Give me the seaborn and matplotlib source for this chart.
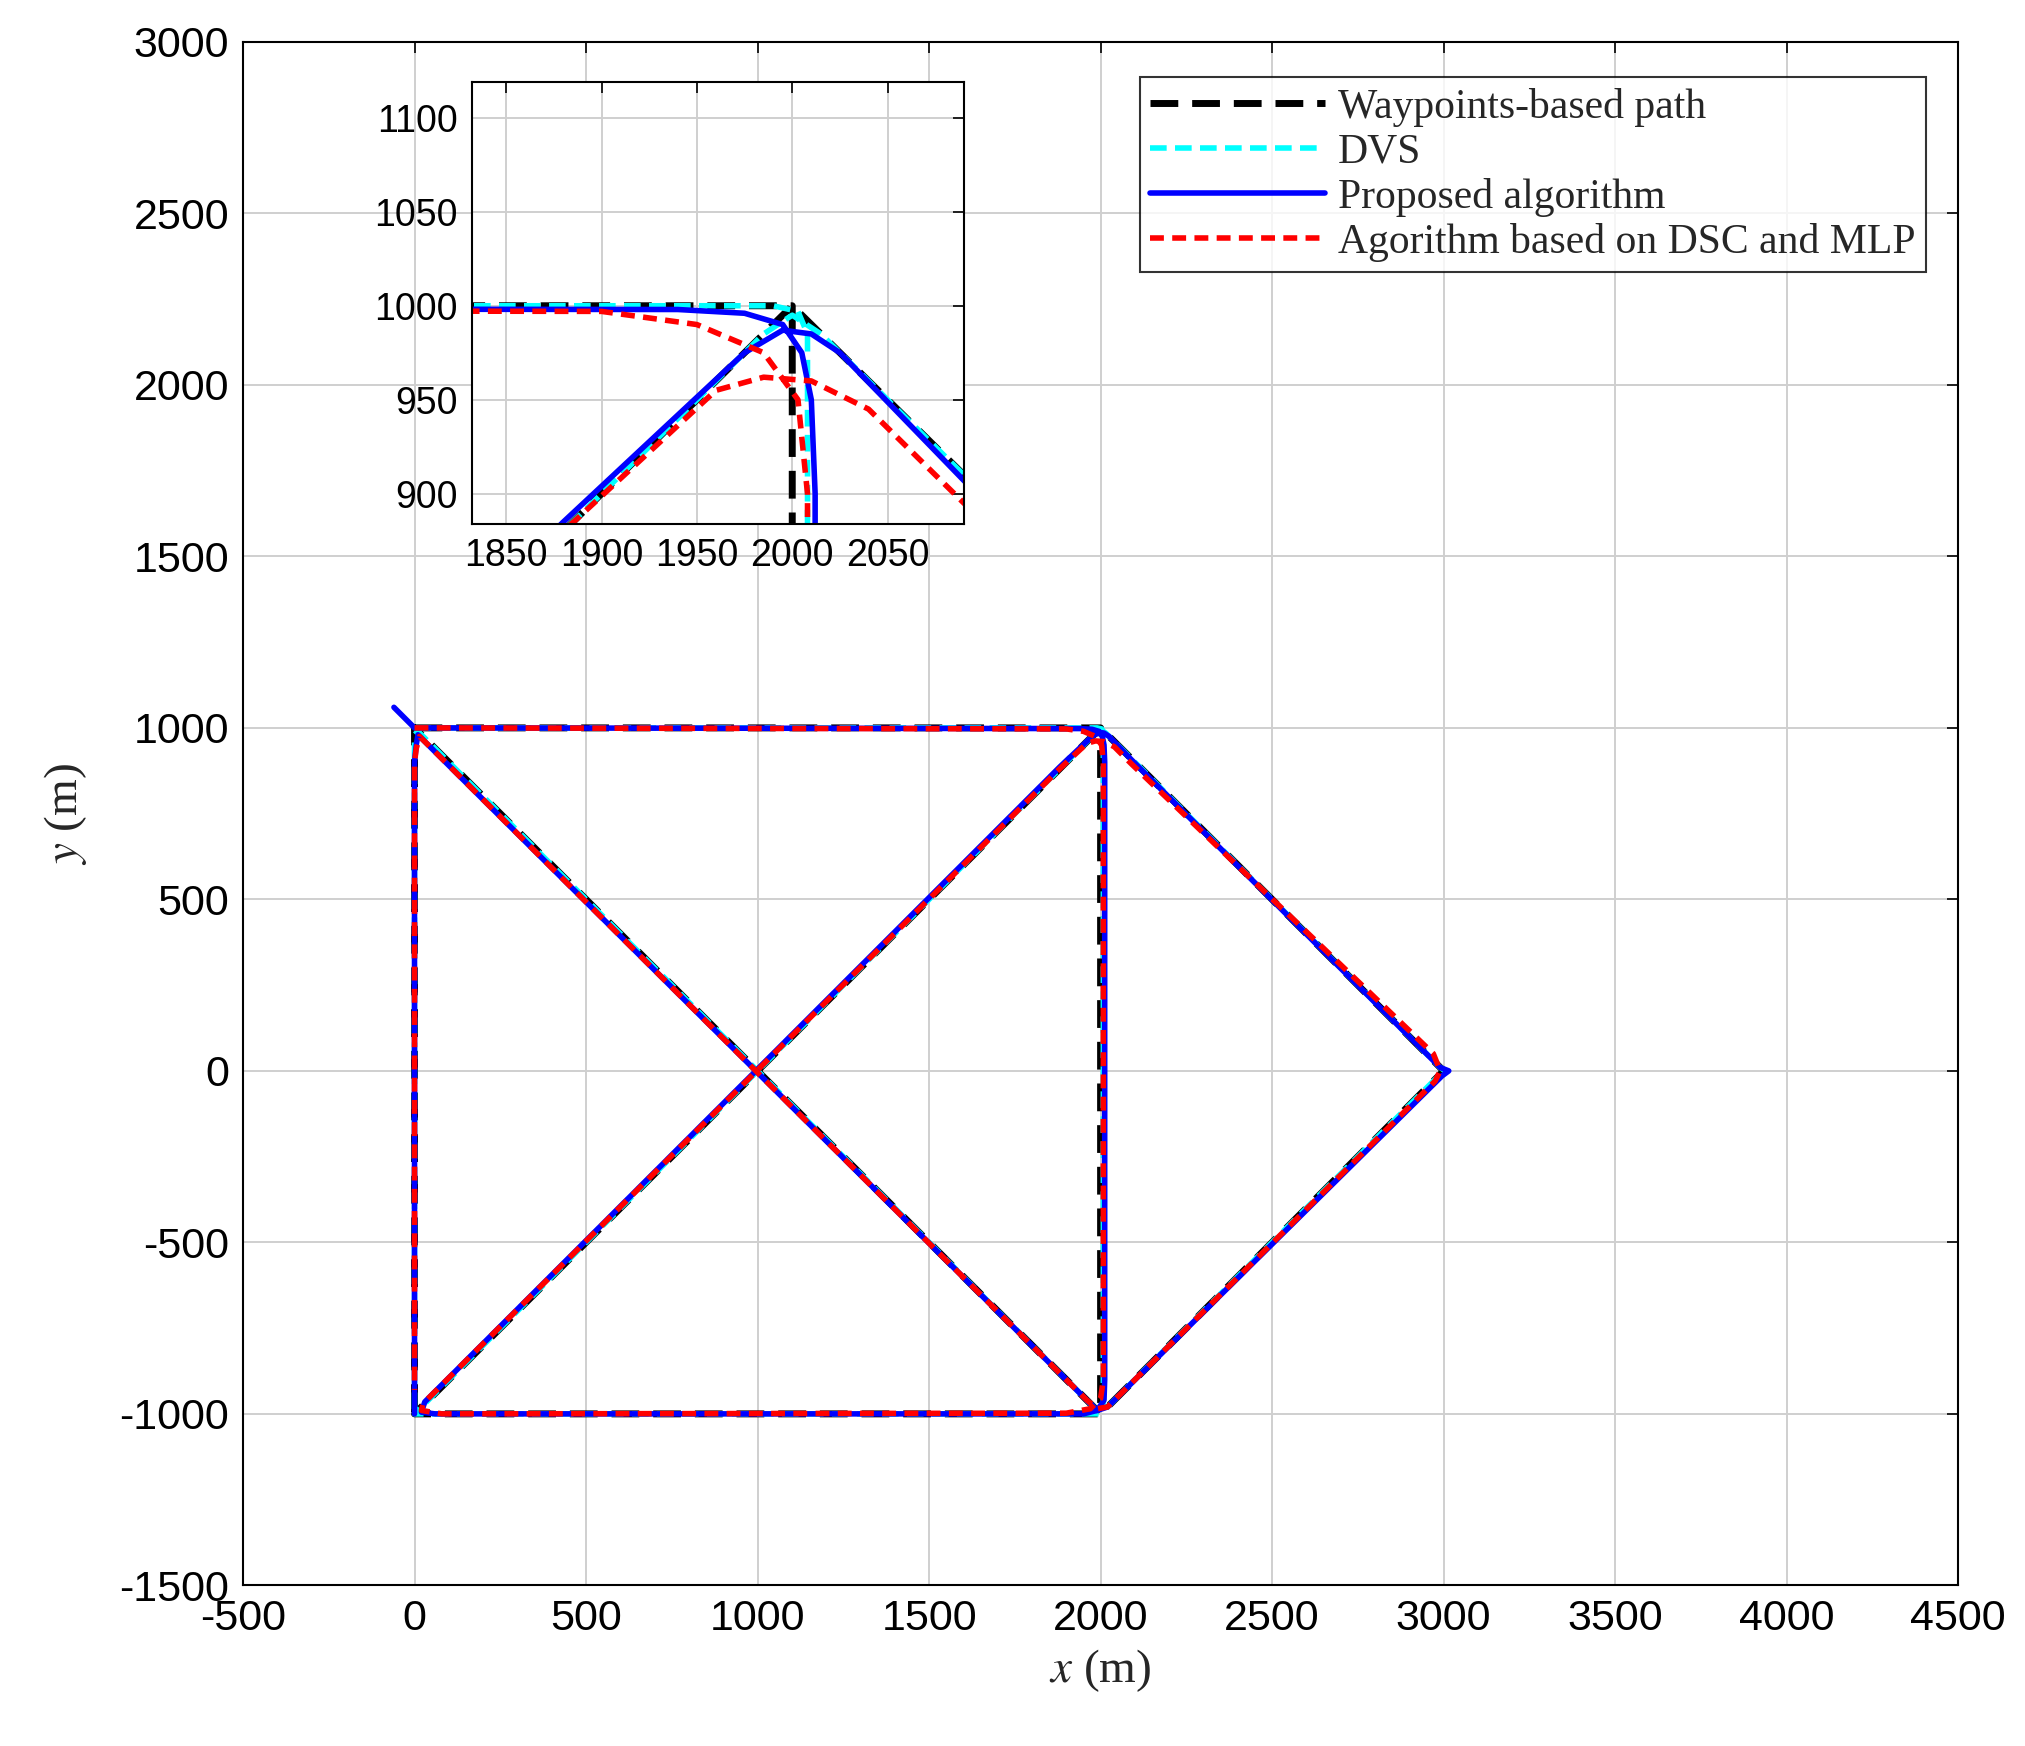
import matplotlib
matplotlib.use("Agg")
import matplotlib.pyplot as plt
import seaborn as sns
import pandas as pd

sns.set_theme(style="whitegrid")
plt.rcParams['font.family'] = ['Liberation Sans', 'DejaVu Sans']
plt.rcParams['axes.unicode_minus'] = False
plt.rcParams['mathtext.fontset'] = 'stix'

# Waypoints-based path (A-B-C-D-B-E-C-A-D)
wp_x = [0, 2000, 2000, 0, 2000, 3000, 2000, 0, 0]
wp_y = [1000, 1000, -1000, -1000, 1000, 0, -1000, 1000, -1000]

dvs_x = [0, 1990, 2003, 2008, 2008, 1995, 0, 10, 1985, 2000, 2015, 2990, 3005, 2990, 2010, 1990, 10, 0, 0]
dvs_y = [1000, 1000, 997, 985, -990, -1000, -1000, -990, 985, 995, 985, 10, 0, -10, -990, -990, 990, 980, -1000]

prop_x = [-60, 0, 1940, 1975, 1995, 2005, 2010, 2012, 2012, 2010, 1990, 1950, 60, 20, 30, 1880, 1975, 1995, 2010, 2025, 2090,
          2990, 3015, 2995, 2020, 1990, 1960, 10, 5, 0, 0]
prop_y = [1060, 1000, 998, 996, 990, 975, 950, 900, -900, -960, -990, -1000, -1000, -995, -965, 885, 975, 987, 985, 975, 907,
          10, 0, -15, -980, -990, -960, 980, 950, 900, -1000]

red_x = [0, 1900, 1950, 1985, 2003, 2008, 2008, 2000, 1970, 1900, 80, 20, 25, 1880, 1960, 1985, 2010, 2040, 2090,
         2970, 2990, 2975, 2020, 1990, 1960, 15, 5, 0, 0]
red_y = [1000, 997, 990, 975, 950, 900, -900, -955, -985, -998, -1000, -990, -970, 880, 955, 962, 960, 945, 895,
         50, 0, -30, -980, -985, -960, 975, 940, 900, -930]

series = [
    ("Waypoints-based path", wp_x, wp_y, "black", (0, (4, 2)), 5),
    ("DVS", dvs_x, dvs_y, "cyan", (0, (3, 1.5)), 4),
    ("Proposed algorithm", prop_x, prop_y, "#0000ff", "-", 4),
    ("Agorithm based on DSC and MLP", red_x, red_y, "red", (0, (2.5, 1.5)), 4),
]

fig = plt.figure(figsize=(20.25, 17.46), dpi=100)
ax = fig.add_axes([0.12, 0.092, 0.847, 0.884])
ins = fig.add_axes([0.233, 0.70, 0.243, 0.253])

for a in (ax, ins):
    for name, xs, ys, c, ls, lw in series:
        df = pd.DataFrame({"x": xs, "y": ys})
        sns.lineplot(data=df, x="x", y="y", sort=False, estimator=None, ax=a, color=c,
                     linestyle=ls, linewidth=lw, label=name if a is ax else None)
    a.set_facecolor("white")
    for s in a.spines.values():
        s.set_color("black"); s.set_linewidth(1.5)
    a.grid(True, color="#cfcfcf", linewidth=1.4)
    a.tick_params(direction="in", length=8, width=1.2, colors="black", top=True, right=True, pad=10)

ax.set_xlim(-500, 4500); ax.set_ylim(-1500, 3000)
ax.set_xticks(range(-500, 4501, 500)); ax.set_yticks(range(-1500, 3001, 500))
ax.tick_params(labelsize=31)
ax.set_xlabel(r"$x$ (m)", fontsize=34, family="Liberation Serif", labelpad=6)
ax.set_ylabel(r"$y$ (m)", fontsize=34, family="Liberation Serif", labelpad=22)

ins.set_xlim(1832, 2090); ins.set_ylim(884, 1119)
ins.set_xticks([1850, 1900, 1950, 2000, 2050]); ins.set_yticks([900, 950, 1000, 1050, 1100])
ins.set_xlabel(""); ins.set_ylabel("")
ins.tick_params(labelsize=27)

leg = ax.legend(loc="upper right", bbox_to_anchor=(0.981, 0.977), prop={"family": "Liberation Serif", "size": 30},
                frameon=True, fancybox=False, edgecolor="black", handlelength=4.2, handletextpad=0.3,
                borderpad=0.25, labelspacing=0.15, borderaxespad=0)
leg.get_frame().set_linewidth(1.5)

fig.savefig("out.png", dpi=100, facecolor="white")
